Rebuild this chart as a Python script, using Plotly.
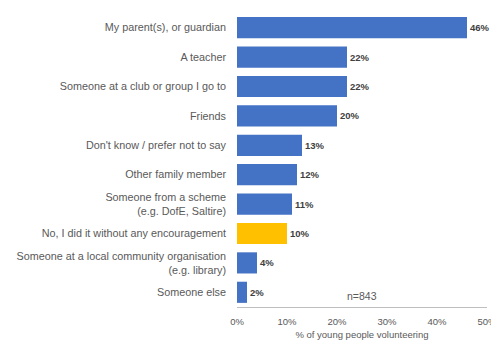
import plotly.graph_objects as go

categories = [
    "My parent(s), or guardian",
    "A teacher",
    "Someone at a club or group I go to",
    "Friends",
    "Don't know / prefer not to say",
    "Other family member",
    "Someone from a scheme<br>(e.g. DofE, Saltire)",
    "No, I did it without any encouragement",
    "Someone at a local community organisation<br>(e.g. library)",
    "Someone else",
]
values = [46, 22, 22, 20, 13, 12, 11, 10, 4, 2]
highlight = "No, I did it without any encouragement"
x_ticks = [0, 10, 20, 30, 40, 50]
note = "n=843"
x_title = "% of young people volunteering"

colors = ["#FFC000" if c == highlight else "#4472C4" for c in categories]
FONT = "Liberation Sans"

fig = go.Figure(go.Bar(
    y=categories,
    x=values,
    orientation="h",
    marker=dict(color=colors, line=dict(width=0)),
    width=0.72,
    text=[f"<b>{v}%</b>" for v in values],
    textposition="outside",
    textfont=dict(family=FONT, size=9.5, color="#404040"),
    cliponaxis=False,
))

fig.add_annotation(
    x=25, y=9, xref="x", yref="y", text=note, showarrow=False,
    xanchor="center", yanchor="middle",
    font=dict(family=FONT, size=10.5, color="#595959"),
    yshift=-4,
)

fig.update_layout(
    width=491, height=340,
    margin=dict(l=237, r=4, t=13, b=33, autoexpand=False),
    paper_bgcolor="white", plot_bgcolor="white",
    showlegend=False,
    bargap=0.28,
    font=dict(family=FONT, size=10, color="#595959"),
)
fig.update_yaxes(
    autorange="reversed", showgrid=False, showline=False,
    ticks="", ticklabelstandoff=10, automargin=False,
    tickfont=dict(family=FONT, size=10.8, color="#595959"),
)
fig.update_xaxes(
    range=[0, 50.001], tickmode="array", tickvals=x_ticks,
    ticktext=[f"{t}%" for t in x_ticks],
    showgrid=False, showline=True, linecolor="#BFBFBF", linewidth=1,
    zeroline=False, ticks="", ticklabelstandoff=6, automargin=False,
    ticklabeloverflow="allow",
    tickfont=dict(family=FONT, size=9.5, color="#595959"),
    title=dict(text=x_title, font=dict(family=FONT, size=9.5, color="#595959"), standoff=8),
)

fig.write_html("out.html")
